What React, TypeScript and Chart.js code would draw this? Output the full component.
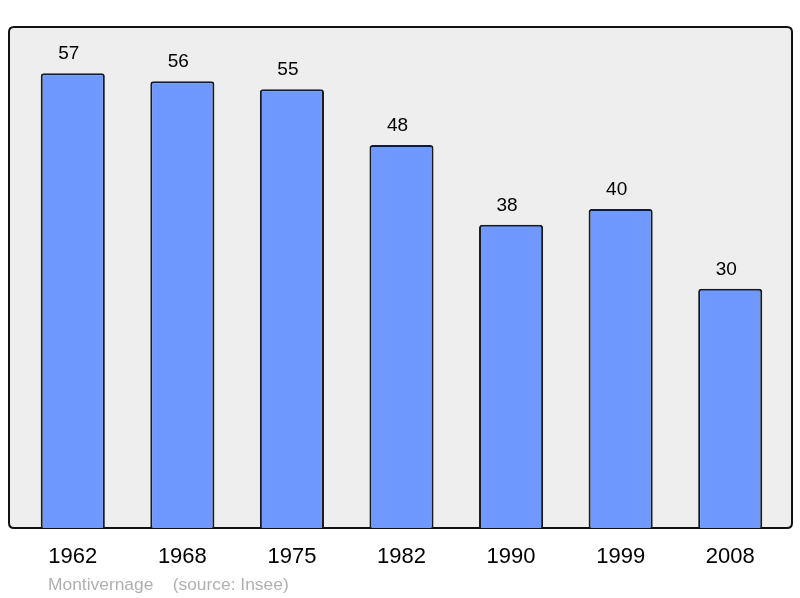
import React, { useEffect, useRef } from "react";
import { Chart, registerables } from "chart.js";

Chart.register(...registerables);

const years = ["1962", "1968", "1975", "1982", "1990", "1999", "2008"];
const population = [57, 56, 55, 48, 38, 40, 30];
const footerText = "Montivernage    (source: Insee)";

const framePlugin = {
  id: "frame",
  beforeDraw(chart: any) {
    const { ctx } = chart;
    const x0 = 9, y0 = 27, x1 = 792, y1 = 528, r = 5;
    ctx.save();
    ctx.beginPath();
    ctx.moveTo(x0 + r, y0);
    ctx.lineTo(x1 - r, y0);
    ctx.quadraticCurveTo(x1, y0, x1, y0 + r);
    ctx.lineTo(x1, y1 - r);
    ctx.quadraticCurveTo(x1, y1, x1 - r, y1);
    ctx.lineTo(x0 + r, y1);
    ctx.quadraticCurveTo(x0, y1, x0, y1 - r);
    ctx.lineTo(x0, y0 + r);
    ctx.quadraticCurveTo(x0, y0, x0 + r, y0);
    ctx.closePath();
    ctx.fillStyle = "#eeeeee";
    ctx.fill();
    ctx.lineWidth = 2;
    ctx.strokeStyle = "#111111";
    ctx.stroke();
    ctx.restore();
  },
  afterDatasetsDraw(chart: any) {
    const { ctx } = chart;
    const meta = chart.getDatasetMeta(0);
    ctx.save();
    ctx.font = "19px 'Liberation Sans', Arial, sans-serif";
    ctx.fillStyle = "#000000";
    ctx.textAlign = "center";
    ctx.textBaseline = "alphabetic";
    meta.data.forEach((bar: any, i: number) => {
      ctx.fillText(String(chart.data.datasets[0].data[i]), bar.x - 4, bar.y - 14);
    });
    ctx.font = "17.4px 'Liberation Sans', Arial, sans-serif";
    ctx.fillStyle = "#b0b0b0";
    ctx.textAlign = "left";
    ctx.textBaseline = "alphabetic";
    ctx.fillText(footerText, 48, 590);
    ctx.restore();
  },
};

export default function App() {
  const ref = useRef<HTMLCanvasElement>(null);
  useEffect(() => {
    const chart = new Chart(ref.current!, {
      type: "bar",
      data: {
        labels: years,
        datasets: [
          {
            data: population,
            backgroundColor: "#7099ff",
            borderColor: "#1a1a1a",
            borderWidth: 2,
            borderRadius: 3,
            borderSkipped: "bottom",
            barPercentage: 0.585,
            categoryPercentage: 1,
          },
        ],
      },
      options: {
        responsive: false,
        animation: false,
        events: [],
        layout: { padding: { left: 18, right: 15, top: 27, bottom: 0 } },
        plugins: { legend: { display: false }, tooltip: { enabled: false } },
        scales: {
          x: {
            grid: { display: false },
            border: { display: false },
            ticks: {
              color: "#000000",
              font: { size: 22, family: "'Liberation Sans', Arial, sans-serif" },
              padding: 8,
              maxRotation: 0,
            },
            afterFit(scale: any) {
              scale.height = 70;
            },
          },
          y: { display: false, min: 0, max: 62.8 },
        },
      },
      plugins: [framePlugin],
    });
    return () => chart.destroy();
  }, []);
  return (
    <div style={{ position: "absolute", left: 0, top: 0, width: 800, height: 598 }}>
      <canvas ref={ref} width={800} height={598} />
    </div>
  );
}
